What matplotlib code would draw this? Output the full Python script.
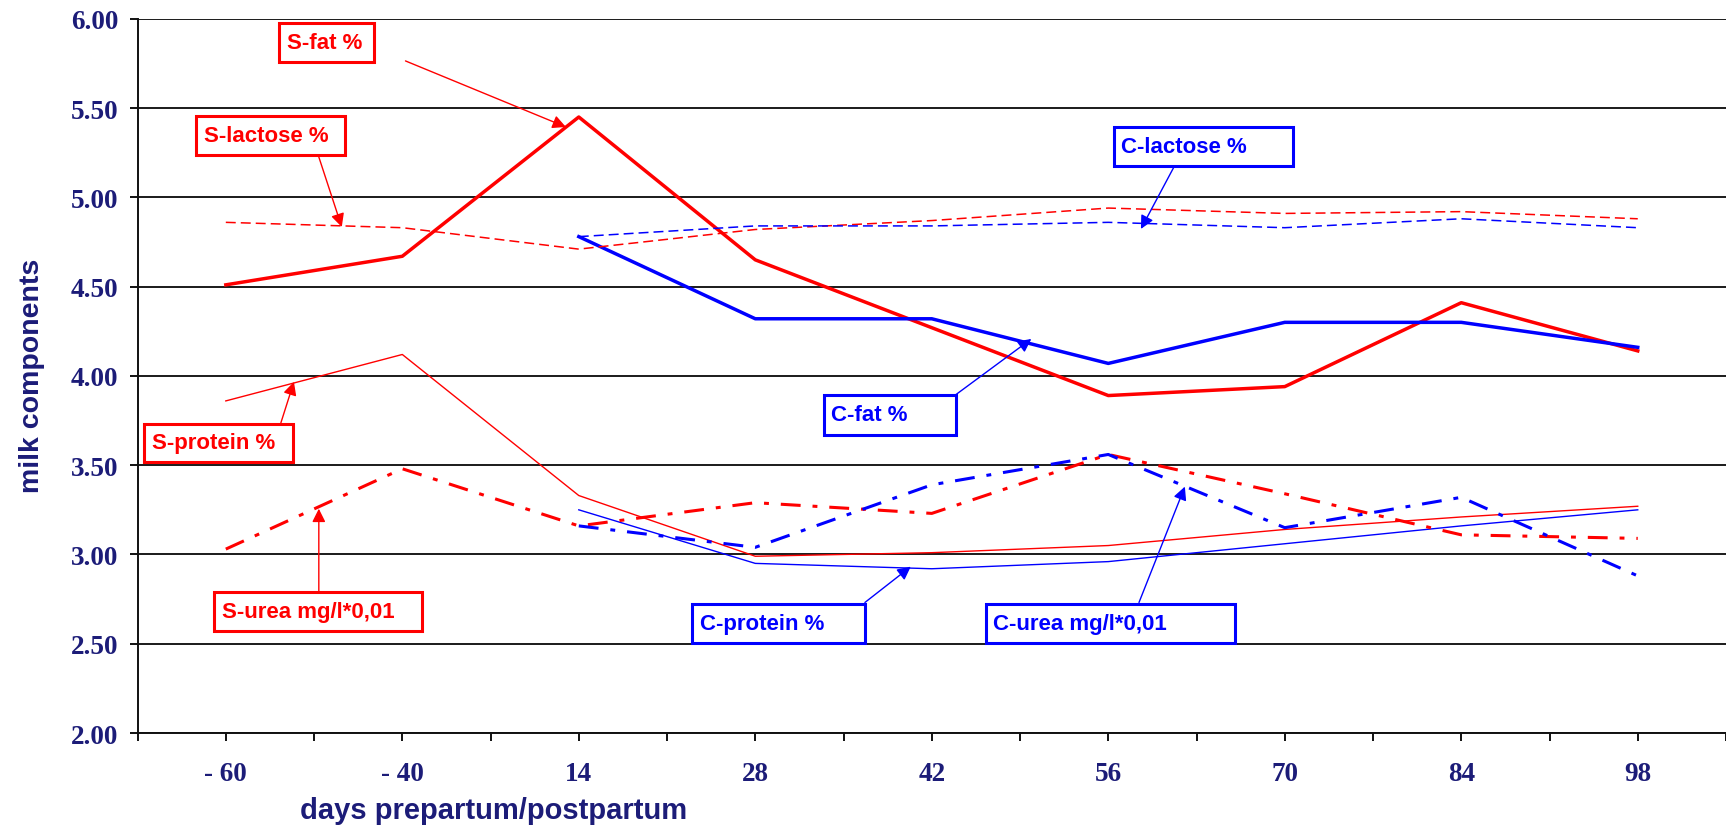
import numpy as np
import matplotlib
matplotlib.use('Agg')
import matplotlib.pyplot as plt
from matplotlib.patches import Rectangle

# days prepartum/postpartum (categorical axis)
days = ['- 60', '- 40', '14', '28', '42', '56', '70', '84', '98']

nan = np.nan
# S = first group (red), C = second group (blue)
s_fat = [4.51, 4.67, 5.45, 4.65, 4.27, 3.89, 3.94, 4.41, 4.14]
c_fat = [nan, nan, 4.78, 4.32, 4.32, 4.07, 4.30, 4.30, 4.16]
s_lactose = [4.86, 4.83, 4.71, 4.82, 4.87, 4.94, 4.91, 4.92, 4.88]
c_lactose = [nan, nan, 4.78, 4.84, 4.84, 4.86, 4.83, 4.88, 4.83]
s_protein = [3.86, 4.12, 3.33, 2.99, 3.01, 3.05, 3.14, 3.21, 3.27]
c_protein = [nan, nan, 3.25, 2.95, 2.92, 2.96, 3.06, 3.16, 3.25]
s_urea = [3.03, 3.48, 3.16, 3.29, 3.23, 3.56, 3.34, 3.11, 3.09]
c_urea = [nan, nan, 3.16, 3.04, 3.39, 3.56, 3.15, 3.32, 2.88]

RED = '#ff0000'
BLUE = '#0000ff'
NAVY = '#1c1c78'

# label boxes: text, colour, box (x0, x1, y0, y1), text x, arrow tail, arrow head
labels = [
    ('S-fat %', RED, (0.301, 0.837, 5.758, 5.976), 0.346, (1.018, 5.764), (1.927, 5.394)),
    ('S-lactose %', RED, (-0.167, 0.674, 5.237, 5.456), -0.122, (0.527, 5.226), (0.657, 4.834)),
    ('S-protein %', RED, (-0.461, 0.380, 3.518, 3.731), -0.416, (0.312, 3.737), (0.386, 3.967)),
    ('S-urea mg/l*0,01', RED, (-0.066, 1.114, 2.573, 2.791), -0.021, (0.527, 2.791), (0.527, 3.256)),
    ('C-lactose %', BLUE, (5.032, 6.049, 5.176, 5.394), 5.072, (5.372, 5.170), (5.185, 4.823)),
    ('C-fat %', BLUE, (3.389, 4.135, 3.670, 3.894), 3.429, (4.135, 3.894), (4.564, 4.207)),
    ('C-protein %', BLUE, (2.639, 3.621, 2.502, 2.725), 2.684, (3.621, 2.731), (3.881, 2.932)),
    ('C-urea mg/l*0,01', BLUE, (4.310, 5.716, 2.502, 2.725), 4.349, (5.174, 2.731), (5.434, 3.380)),
]

fig = plt.figure(figsize=(17.26, 8.28), dpi=100)
ax = fig.add_axes([0.0797, 0.1135, 0.9203, 0.8626])

x = np.arange(len(days))

dashed = (6.5, 3.3)
dashdot = (6.5, 3.9, 1.6, 3.9)

ax.plot(x, s_fat, color=RED, lw=2.5, zorder=3)
ax.plot(x, c_fat, color=BLUE, lw=2.5, zorder=3)
ax.plot(x, s_lactose, color=RED, lw=1.1, dashes=dashed, zorder=3)
ax.plot(x, c_lactose, color=BLUE, lw=1.1, dashes=dashed, zorder=3)
ax.plot(x, s_protein, color=RED, lw=1.0, zorder=3)
ax.plot(x, c_protein, color=BLUE, lw=1.0, zorder=3)
ax.plot(x, s_urea, color=RED, lw=2.2, dashes=dashdot, zorder=3)
ax.plot(x, c_urea, color=BLUE, lw=2.2, dashes=dashdot, zorder=3)

ax.set_xlim(-0.5, 8.47)
ax.set_ylim(2, 6)

# axes look
ax.spines['top'].set_visible(False)
ax.spines['right'].set_visible(False)
for s in ['left', 'bottom']:
    ax.spines[s].set_linewidth(1.4)
    ax.spines[s].set_color('#111111')
ax.set_yticks(np.arange(2, 6.01, 0.5))
ax.set_yticklabels(['%.2f' % v for v in np.arange(2, 6.01, 0.5)])
ax.yaxis.grid(True, color='#1a1a1a', lw=1.4)
ax.set_axisbelow(True)
ax.set_xticks(x)
ax.set_xticklabels(days)
ax.set_xticks(np.arange(-0.5, 8.6, 1.0), minor=True)
ax.tick_params(axis='both', which='both', direction='out', length=6, width=1.4, color='#111111')
ax.tick_params(axis='y', pad=8)
ax.tick_params(axis='x', pad=14)
for lab in ax.get_xticklabels() + ax.get_yticklabels():
    lab.set_fontfamily('Liberation Serif')
    lab.set_fontweight('bold')
    lab.set_fontsize(19.5)
    lab.set_color(NAVY)

fig.text(0.0185, 0.546, 'milk components', rotation=90, ha='center', va='center',
         family='Liberation Sans', fontweight='bold', fontsize=20.5, color=NAVY)
fig.text(0.2862, 0.020, 'days prepartum/postpartum', ha='center', va='center',
         family='Liberation Sans', fontweight='bold', fontsize=21, color=NAVY)

# annotation boxes with arrows
for text, col, (x0, x1, y0, y1), tx, tail, head in labels:
    ax.add_patch(Rectangle((x0, y0), x1 - x0, y1 - y0, facecolor='white',
                           edgecolor=col, lw=2.2, zorder=5, clip_on=False))
    ax.text(tx, (y0 + y1) / 2, text, color=col, ha='left', va='center',
            family='Liberation Sans', fontweight='bold', fontsize=16, zorder=6)
    ax.annotate('', xy=head, xytext=tail,
                arrowprops=dict(arrowstyle='-|>', color=col, lw=1.0,
                                mutation_scale=20, shrinkA=0, shrinkB=0),
                zorder=6)

fig.savefig('out.png', dpi=100)
